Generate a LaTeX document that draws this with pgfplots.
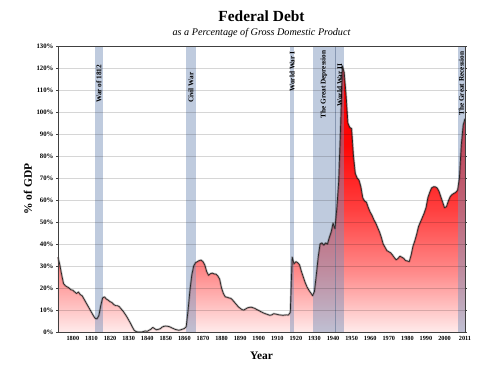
\documentclass[border=0pt]{standalone}
\usepackage{fontspec}
\setmainfont{Liberation Serif}
\usepackage{pgfplots}
\pgfplotsset{compat=1.18}
\definecolor{band}{RGB}{122,146,186}
\pgfdeclareverticalshading{debtshade}{100bp}{color(0bp)=(red!8); color(25bp)=(red!8); color(36bp)=(red!45); color(48bp)=(red!75); color(60bp)=(red!97); color(75bp)=(red); color(100bp)=(red)}
\newcommand{\debtdata}{
(1792,34) (1793,30.5) (1794,26) (1795,22) (1796,21) (1797,20.5) (1798,20) (1799,19.2) (1800,19) (1801,18.2) (1802,17.5) (1803,18.2) (1804,17) (1805,16.5) (1806,15) (1807,13.5) (1808,12) (1809,10.5) (1810,9) (1811,7.5) (1812,6.2) (1813,6.0) (1814,7.5) (1815,12) (1816,15.5) (1817,16) (1818,15) (1819,14.5) (1820,13.8) (1821,13.4) (1822,12.5) (1823,12) (1824,12) (1825,11.5) (1826,10.5) (1827,9.5) (1828,8.3) (1829,7) (1830,5.5) (1831,4) (1832,2.3) (1833,0.8) (1834,0.2) (1835,0) (1836,0) (1837,0) (1838,0.2) (1839,0.5) (1840,0.3) (1841,0.8) (1842,1.3) (1843,2.1) (1844,1.5) (1845,1.0) (1846,1.2) (1847,1.5) (1848,2.2) (1849,2.6) (1850,2.7) (1851,2.6) (1852,2.4) (1853,2.0) (1854,1.6) (1855,1.2) (1856,1.0) (1857,0.8) (1858,1.0) (1859,1.3) (1860,1.6) (1861,2.5) (1862,10) (1863,19) (1864,26) (1865,30) (1866,31.5) (1867,32) (1868,32.5) (1869,32.7) (1870,32) (1871,30.5) (1872,27.5) (1873,25.8) (1874,26.5) (1875,26.8) (1876,26.4) (1877,26.3) (1878,25.5) (1879,24) (1880,20) (1881,17.5) (1882,16) (1883,15.8) (1884,15.5) (1885,15.3) (1886,14.5) (1887,13.5) (1888,12.5) (1889,11.5) (1890,10.8) (1891,10.2) (1892,10) (1893,10.5) (1894,11) (1895,11.2) (1896,11.3) (1897,11.0) (1898,10.7) (1899,10.2) (1900,9.8) (1901,9.3) (1902,8.9) (1903,8.5) (1904,8.2) (1905,7.9) (1906,7.6) (1907,7.8) (1908,8.3) (1909,8.2) (1910,8.0) (1911,7.8) (1912,7.7) (1913,7.6) (1914,7.7) (1915,7.8) (1916,7.7) (1917,9) (1918,34) (1919,31) (1920,32) (1921,31.5) (1922,30.5) (1923,27.5) (1924,25) (1925,22.5) (1926,20.5) (1927,19) (1928,17.8) (1929,16.5) (1930,18.5) (1931,26) (1932,34) (1933,40) (1934,40.5) (1935,39.5) (1936,40.5) (1937,40) (1938,43) (1939,45.5) (1940,49.5) (1941,47) (1942,56) (1943,68) (1944,92) (1945,121) (1946,118) (1947,108) (1948,95) (1949,93) (1950,92.5) (1951,80) (1952,72) (1953,70) (1954,69) (1955,66) (1956,61) (1957,59.5) (1958,59) (1959,56.5) (1960,54.5) (1961,53) (1962,51) (1963,49.5) (1964,47.5) (1965,45.5) (1966,43) (1967,40) (1968,38.5) (1969,37) (1970,36.5) (1971,36) (1972,35) (1973,33.8) (1974,32.8) (1975,33.5) (1976,34.5) (1977,34) (1978,33.5) (1979,32.5) (1980,32.3) (1981,32) (1982,35) (1983,39) (1984,41.5) (1985,44.5) (1986,48) (1987,50) (1988,52) (1989,54) (1990,56.5) (1991,61) (1992,63.5) (1993,65.5) (1994,66) (1995,66) (1996,65.5) (1997,64) (1998,61.5) (1999,59) (2000,56.5) (2001,57) (2002,59.5) (2003,61.5) (2004,62.5) (2005,63) (2006,63.5) (2007,64.5) (2008,70) (2009,85) (2010,94) (2011,97)
}
\begin{document}
\begin{tikzpicture}
\begin{axis}[
  scale only axis, width=407bp, height=286bp,
  xmin=1792, xmax=2011, ymin=0, ymax=130,
  clip=false, axis on top,
  axis line style={black!75, line width=0.8pt},
  xtick={1800,1810,...,2000,2011},
  ytick={0,10,...,130},
  yticklabel={\pgfmathprintnumber{\tick}\%},
  /pgf/number format/1000 sep={},
  /pgf/number format/assume math mode=true,
  x tick label style={font=\bfseries\fontsize{6.3}{7}\selectfont, yshift=1pt},
  y tick label style={font=\bfseries\fontsize{6.8}{7}\selectfont, xshift=1pt},
  tick align=outside, major tick length=2pt,
  xtick style={draw=none},
  ytick style={black!75},
  ymajorgrids, major grid style={black, opacity=0.16, line width=0.6pt},
]
% area
\addplot[draw=none, shading=debtshade] coordinates {\debtdata} \closedcycle;
% bands
\addplot[draw=none, fill=band, fill opacity=0.48] coordinates {(1812,130) (1816,130)} \closedcycle;
\addplot[draw=none, fill=band, fill opacity=0.48] coordinates {(1861,130) (1866,130)} \closedcycle;
\addplot[draw=none, fill=band, fill opacity=0.48] coordinates {(1917,130) (1919,130)} \closedcycle;
\addplot[draw=none, fill=band, fill opacity=0.48] coordinates {(1929,130) (1941,130)} \closedcycle;
\addplot[draw=none, fill=band, fill opacity=0.48] coordinates {(1941,130) (1946,130)} \closedcycle;
\addplot[draw=none, fill=band, fill opacity=0.48] coordinates {(2007,130) (2011,130)} \closedcycle;
\addplot[band!80!black, line width=0.5pt, opacity=0.6] coordinates {(1941,0) (1941,130)};
% line
\addplot[black!85, line width=0.7pt, line join=round,
  preaction={draw=black, opacity=0.22, line width=2.2pt}] coordinates {\debtdata};
% band labels
\begin{scope}[every node/.style={rotate=90, anchor=east, inner sep=1pt, font=\bfseries\fontsize{7.3}{8}\selectfont}]
\node at (axis cs:1814,122) {War of 1812};
\node at (axis cs:1863.5,118.5) {Civil War};
\node at (axis cs:1918,128) {World War I};
\node at (axis cs:1935,128.5) {The Great Depression};
\node at (axis cs:1943.5,122.5) {World War II};
\node at (axis cs:2009,128) {The Great Recession};
\end{scope}
% titles
\node at (rel axis cs:0.5,1) [yshift=30bp] {\bfseries\fontsize{15.5}{17}\selectfont Federal Debt};
\node at (rel axis cs:0.5,1) [yshift=13bp] {\itshape\fontsize{10.2}{12}\selectfont as a Percentage of Gross Domestic Product};
\node at (rel axis cs:0.5,0) [yshift=-24bp] {\bfseries\fontsize{11.5}{13}\selectfont Year};
\node at (rel axis cs:0,0.5) [xshift=-30bp, rotate=90] {\bfseries\fontsize{11.5}{13}\selectfont \% of GDP};
\coordinate (O) at (rel axis cs:0,0);
\end{axis}
\pgfresetboundingbox
\path (O) ++(-58bp,-36bp) rectangle ++(483bp,368bp);
\end{tikzpicture}
\end{document}
